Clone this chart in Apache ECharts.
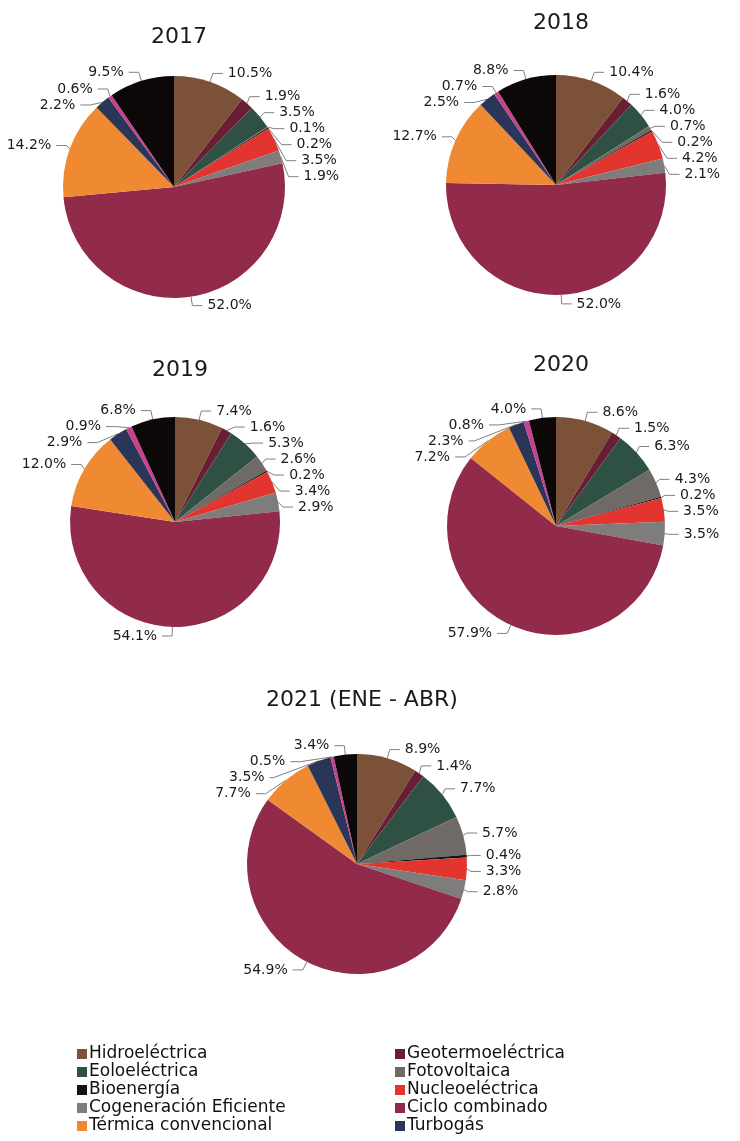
<!DOCTYPE html>
<html>
<head>
<meta charset="utf-8">
<script src="https://cdn.jsdelivr.net/npm/echarts@6/dist/echarts.min.js"></script>
<style>
html,body{margin:0;padding:0;background:#fff;}
#chart{width:740px;height:1141px;}
</style>
</head>
<body>
<div id="chart"></div>
<script>
// Categories in clockwise order from 12 o'clock
const categories = ['Hidroeléctrica','Geotermoeléctrica','Eoloeléctrica','Fotovoltaica','Bioenergía','Nucleoeléctrica','Cogeneración Eficiente','Ciclo combinado','Térmica convencional','Turbogás','Combustión interna','Carboeléctrica'];
const colors = ['#7b5238','#6a1e33','#2e5143','#6f6a66','#141414','#e3352f','#7f7d7b','#922a4a','#f08a32','#2b3558','#c8408e','#0c0808'];

const years = ['2017','2018','2019','2020','2021 (ENE - ABR)'];
const v2017 = [10.5,1.9,3.5,0.1,0.2,3.5,1.9,52.0,14.2,2.2,0.6,9.5];
const v2018 = [10.4,1.6,4.0,0.7,0.2,4.2,2.1,52.0,12.7,2.5,0.7,8.8];
const v2019 = [7.4,1.6,5.3,2.6,0.2,3.4,2.9,54.1,12.0,2.9,0.9,6.8];
const v2020 = [8.6,1.5,6.3,4.3,0.2,3.5,3.5,57.9,7.2,2.3,0.8,4.0];
const v2021 = [8.9,1.4,7.7,5.7,0.4,3.3,2.8,54.9,7.7,3.5,0.5,3.4];

const legendLeft = ['Hidroeléctrica','Eoloeléctrica','Bioenergía','Cogeneración Eficiente','Térmica convencional'];
const legendRight = ['Geotermoeléctrica','Fotovoltaica','Nucleoeléctrica','Ciclo combinado','Turbogás'];

const allValues = [v2017,v2018,v2019,v2020,v2021];
const layout = [
  {c:[174,187], r:111, t:[174,21]},
  {c:[556,185], r:110, t:[556,7]},
  {c:[175,522], r:105, t:[175,354]},
  {c:[556,526], r:109, t:[556,349]},
  {c:[357,864], r:110, t:[357,684]}
];
const FONT = '"DejaVu Sans", sans-serif';

const chart = echarts.init(document.getElementById('chart'), null, {renderer:'canvas'});
const series = allValues.map((vals,i)=>({
  type:'pie',
  name: years[i],
  center: layout[i].c,
  radius: layout[i].r,
  startAngle: 90,
  clockwise: true,
  avoidLabelOverlap: true,
  minShowLabelAngle: 0,
  data: vals.map((v,k)=>({name:categories[k], value:v, itemStyle:{color:colors[k]}})),
  label:{
    show:true, position:'outside', overflow:'none',
    formatter: p => p.value.toFixed(1) + '%',
    fontFamily: FONT, fontSize: 14, color:'#1a1a1a', fontWeight: 'normal'
  },
  labelLine:{show:true, length:9, length2:10, lineStyle:{color:'#808080', width:1}},
  itemStyle:{borderWidth:0},
  emphasis:{disabled:true}
}));
const titles = years.map((y,i)=>({
  text: y, left: layout[i].t[0], top: layout[i].t[1], textAlign:'center',
  textStyle:{fontFamily:FONT, fontSize: 22, fontWeight:'normal', color:'#1a1a1a'}
}));
const legendText = {fontFamily:FONT, fontSize:17, lineHeight:18, color:'#111', padding:[0,0,0,-3]};
chart.setOption({
  backgroundColor:'#fff',
  animation:false,
  title: titles,
  legend:[
    {data: legendLeft, orient:'vertical', left:77, top:1045, height:200, itemWidth:10, itemHeight:10, itemGap:0, icon:'rect',
     padding:0, textStyle:legendText},
    {data: legendRight, orient:'vertical', left:395, top:1045, height:200, itemWidth:10, itemHeight:10, itemGap:0, icon:'rect',
     padding:0, textStyle:legendText}
  ],
  series: series
});
</script>
</body>
</html>
